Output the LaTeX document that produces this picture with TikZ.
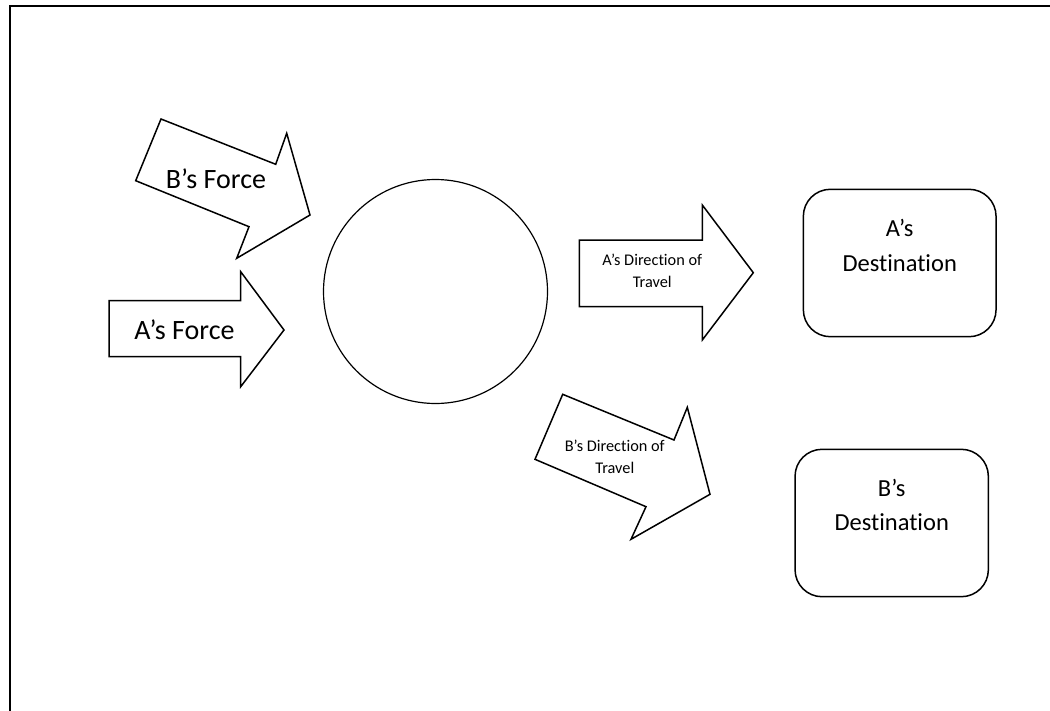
\documentclass[tikz,border=0pt]{standalone}
\usepackage{fontspec}
\setmainfont{Carlito}[Ligatures=NoCommon]
\begin{document}
\begin{tikzpicture}[x=1pt,y=-1pt,
  shapeline/.style={draw=black,line width=1.5pt,line join=miter,fill=white},
  destbox/.style={draw=black,line width=1.5pt,rounded corners=27pt,fill=white,inner sep=0pt},
  bigtext/.style={font=\fontsize{28}{34}\selectfont,anchor=base,inner sep=0pt},
  midtext/.style={font=\fontsize{24.5}{30}\selectfont,anchor=base,inner sep=0pt},
  smalltext/.style={font=\fontsize{16.3}{20}\selectfont,anchor=base,inner sep=0pt}]
  \useasboundingbox (0,0) rectangle (1050,710);
  \fill[white] (0,0) rectangle (1050,710);

  % page frame (top and left edges)
  \draw[line width=2pt] (9.5,712) -- (9.5,6) -- (1052,6);

  % B's force (tilted arrow)
  \draw[shapeline] (161,119) -- (275.7,164.3) -- (286.7,133.3) -- (310,215)
    -- (236.7,258.3) -- (249,226.7) -- (135.7,180.7) -- cycle;
  \node[bigtext] (bforce) at (216,188.3) {B’s Force};

  % A's force
  \draw[shapeline] (109,300.7) -- (240.7,300.7) -- (240.7,271.7) -- (284,330)
    -- (240.7,386.7) -- (240.7,356.7) -- (109,356.7) -- cycle;
  \node[bigtext] (aforce) at (184.5,339) {A’s Force};

  % collision body
  \node[circle,draw=black,line width=1.2pt,minimum size=224pt,inner sep=0pt] (body) at (435.5,291.5) {};

  % A's direction of travel
  \draw[shapeline] (579.3,240) -- (702.3,240) -- (702.3,205) -- (753.3,272.7)
    -- (702.3,340) -- (702.3,306.7) -- (579.3,306.7) -- cycle;
  \node[smalltext] (adir1) at (652.2,265.7) {A’s Direction of};
  \node[smalltext] (adir2) at (652.2,287.3) {Travel};

  % B's direction of travel (tilted arrow)
  \draw[shapeline] (562.7,394.3) -- (674,440) -- (687.3,407.3) -- (710,494.3)
    -- (631,539.3) -- (646,506.7) -- (535,459.3) -- cycle;
  \node[smalltext] (bdir1) at (614.8,451) {B’s Direction of};
  \node[smalltext] (bdir2) at (614.8,473.3) {Travel};

  % destinations
  \node[destbox,minimum width=192.7pt,minimum height=147.4pt] (adest) at (899.7,263) {};
  \node[midtext] (adest1) at (899.7,236) {A’s};
  \node[midtext] (adest2) at (899.7,271) {Destination};

  \node[destbox,minimum width=193.3pt,minimum height=147.4pt] (bdest) at (891.7,523) {};
  \node[midtext] (bdest1) at (891.7,496) {B’s};
  \node[midtext] (bdest2) at (891.7,530) {Destination};
\end{tikzpicture}
\end{document}
